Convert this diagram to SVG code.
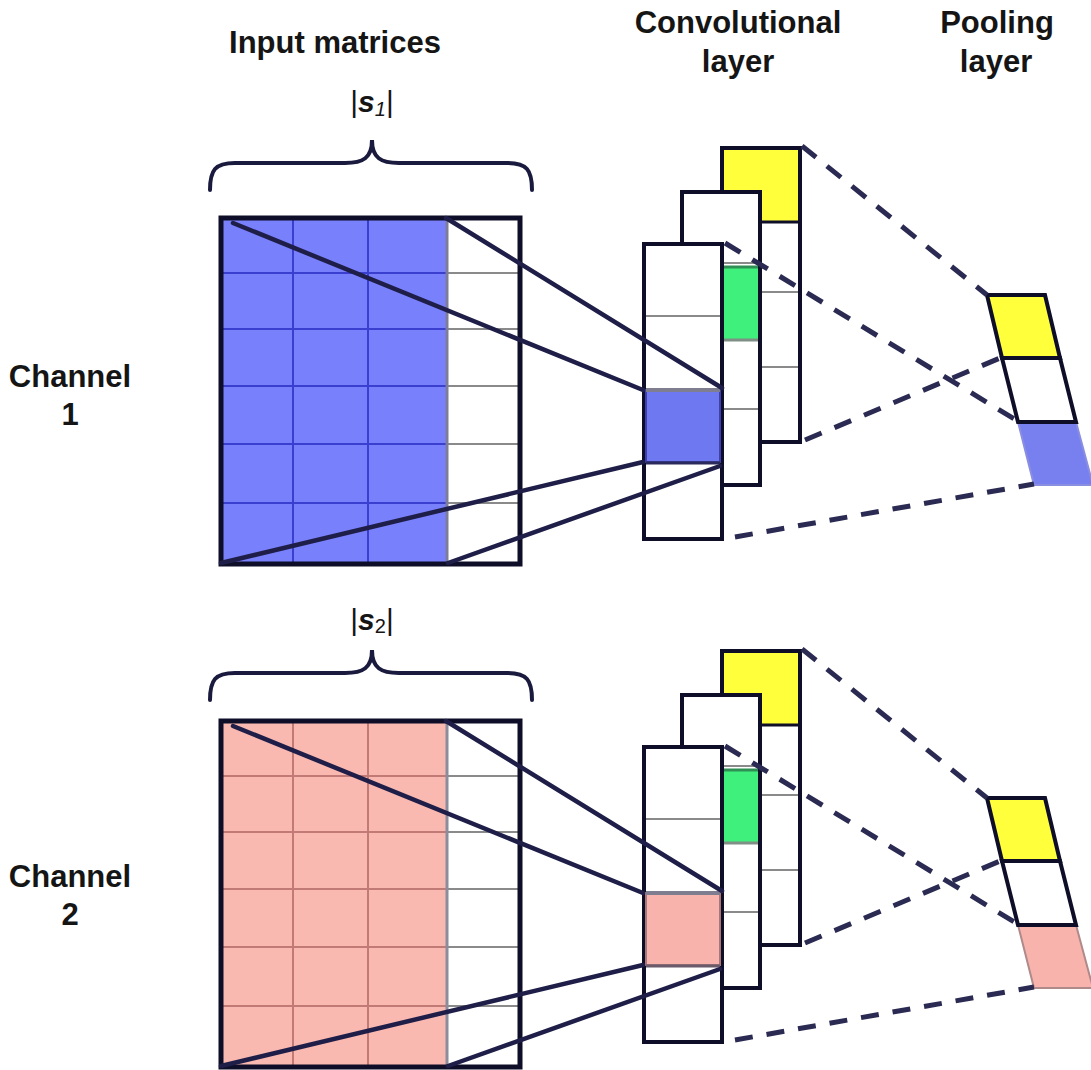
<svg xmlns="http://www.w3.org/2000/svg" width="1091" height="1070" viewBox="0 0 1091 1070">
<style>
.lbl{font-family:"Liberation Sans",Arial,sans-serif;font-weight:bold;font-size:31px;fill:#151515}
.sz{font-family:"Liberation Sans",Arial,sans-serif;font-size:30px;fill:#151515}
.frame{fill:none;stroke:#0e0e28;stroke-width:5}
.blk{fill:#fff;stroke:#0e0e28;stroke-width:4}
.gl{stroke:#8a8a8a;stroke-width:2}
.gb{stroke:#3b3fcf;stroke-width:2}
.gp{stroke:#c27a76;stroke-width:2}
.brace{fill:none;stroke:#1a1a3e;stroke-width:4;stroke-linecap:round}
.solid{stroke:#1e1e48;stroke-width:4.5;stroke-linecap:round}
.dash{stroke:#2a2a52;stroke-width:5;stroke-dasharray:18 14}
.pc{stroke:#0e0e28;stroke-width:4;stroke-linejoin:miter}
</style>

<!-- Titles -->
<g id="title-input"><text class="lbl" x="335" y="53" text-anchor="middle">Input matrices</text></g>
<g id="title-conv"><text class="lbl" x="738" y="33" text-anchor="middle">Convolutional</text><text class="lbl" x="738" y="72" text-anchor="middle">layer</text></g>
<g id="title-pool"><text class="lbl" x="997" y="33" text-anchor="middle">Pooling</text><text class="lbl" x="996" y="72" text-anchor="middle">layer</text></g>

<!-- Channel labels -->
<g id="label-ch1"><text class="lbl" x="70" y="387" text-anchor="middle">Channel</text><text class="lbl" x="70" y="425" text-anchor="middle">1</text></g>
<g id="label-ch2"><text class="lbl" x="70" y="887" text-anchor="middle">Channel</text><text class="lbl" x="70" y="925" text-anchor="middle">2</text></g>

<!-- Braces -->
<g id="brace1">
<path class="brace" d="M210,190 C210,170 215,163 235,163 L345,163 C363,163 372,158 372,140 C372,158 381,163 399,163 L507,163 C527,163 532,170 532,190"/>
<text class="sz" x="372" y="112" text-anchor="middle">|<tspan font-weight="bold" font-style="italic">s</tspan><tspan font-size="20" font-style="italic" dy="4">1</tspan><tspan dy="-4">|</tspan></text>
</g>
<g id="brace2">
<path class="brace" d="M210,700 C210,680 215,673 235,673 L345,673 C363,673 372,668 372,650 C372,668 381,673 399,673 L507,673 C527,673 532,680 532,700"/>
<text class="sz" x="372" y="630" text-anchor="middle">|<tspan font-weight="bold" font-style="italic">s</tspan><tspan font-size="20" dy="3">2</tspan><tspan dy="-3">|</tspan></text>
</g>

<!-- Input matrix 1 -->
<g id="input1">
<rect x="221" y="218" width="226" height="346" fill="#7880fc"/>
<g class="gb"><line x1="293" y1="218" x2="293" y2="564"/><line x1="368" y1="218" x2="368" y2="564"/>
<line x1="221" y1="273" x2="447" y2="273"/><line x1="221" y1="329" x2="447" y2="329"/><line x1="221" y1="386" x2="447" y2="386"/><line x1="221" y1="444" x2="447" y2="444"/><line x1="221" y1="503" x2="447" y2="503"/></g>
<g class="gl"><line x1="447" y1="273" x2="520" y2="273"/><line x1="447" y1="329" x2="520" y2="329"/><line x1="447" y1="386" x2="520" y2="386"/><line x1="447" y1="444" x2="520" y2="444"/><line x1="447" y1="503" x2="520" y2="503"/></g>
<line x1="447" y1="218" x2="447" y2="564" stroke="#7c7c9c" stroke-width="3"/>
<rect class="frame" x="221" y="218" width="299" height="346"/>
</g>

<!-- Input matrix 2 -->
<g id="input2" transform="translate(0,503)">
<rect x="221" y="218" width="226" height="346" fill="#f9b8b0"/>
<g class="gp"><line x1="293" y1="218" x2="293" y2="564"/><line x1="368" y1="218" x2="368" y2="564"/>
<line x1="221" y1="273" x2="447" y2="273"/><line x1="221" y1="329" x2="447" y2="329"/><line x1="221" y1="386" x2="447" y2="386"/><line x1="221" y1="444" x2="447" y2="444"/><line x1="221" y1="503" x2="447" y2="503"/></g>
<g class="gl"><line x1="447" y1="273" x2="520" y2="273"/><line x1="447" y1="329" x2="520" y2="329"/><line x1="447" y1="386" x2="520" y2="386"/><line x1="447" y1="444" x2="520" y2="444"/><line x1="447" y1="503" x2="520" y2="503"/></g>
<line x1="447" y1="218" x2="447" y2="564" stroke="#8c8c9c" stroke-width="3"/>
<rect class="frame" x="221" y="218" width="299" height="346"/>
</g>

<!-- Convolutional layer 1 -->
<g id="conv1">
<g id="conv1-back">
<rect class="blk" x="722" y="148" width="78" height="294"/>
<rect x="724" y="150" width="74" height="72" fill="#ffff3c"/>
<line x1="724" y1="222" x2="798" y2="222" stroke="#0e0e28" stroke-width="3"/>
<g class="gl"><line x1="724" y1="292" x2="798" y2="292"/><line x1="724" y1="367" x2="798" y2="367"/></g>
</g>
<g id="conv1-mid">
<rect class="blk" x="682" y="192" width="78" height="293"/>
<line class="gl" x1="684" y1="263" x2="758" y2="263"/>
<rect x="684" y="266" width="74" height="74" fill="#3ff07c"/>
<line x1="684" y1="267" x2="758" y2="267" stroke="#2f8f55" stroke-width="3"/>
<line x1="684" y1="340" x2="758" y2="340" stroke="#7f8f85" stroke-width="3"/>
<line class="gl" x1="684" y1="409" x2="758" y2="409"/>
</g>
<g id="conv1-front">
<rect class="blk" x="644" y="244" width="78" height="295"/>
<line class="gl" x1="646" y1="316" x2="720" y2="316"/>
<rect x="646" y="390" width="74" height="72" fill="#6e78f0" stroke="#3c40a8" stroke-width="2"/>
<line x1="646" y1="390" x2="720" y2="390" stroke="#7e7e90" stroke-width="4"/>
<line x1="646" y1="463" x2="720" y2="463" stroke="#2a2a5c" stroke-width="3"/>
</g>
</g>

<!-- Convolutional layer 2 -->
<g id="conv2" transform="translate(0,503)">
<g id="conv2-back">
<rect class="blk" x="722" y="148" width="78" height="294"/>
<rect x="724" y="150" width="74" height="72" fill="#ffff3c"/>
<line x1="724" y1="222" x2="798" y2="222" stroke="#0e0e28" stroke-width="3"/>
<g class="gl"><line x1="724" y1="292" x2="798" y2="292"/><line x1="724" y1="367" x2="798" y2="367"/></g>
</g>
<g id="conv2-mid">
<rect class="blk" x="682" y="192" width="78" height="293"/>
<line class="gl" x1="684" y1="263" x2="758" y2="263"/>
<rect x="684" y="266" width="74" height="74" fill="#3ff07c"/>
<line x1="684" y1="267" x2="758" y2="267" stroke="#2f8f55" stroke-width="3"/>
<line x1="684" y1="340" x2="758" y2="340" stroke="#7f8f85" stroke-width="3"/>
<line class="gl" x1="684" y1="409" x2="758" y2="409"/>
</g>
<g id="conv2-front">
<rect class="blk" x="644" y="244" width="78" height="295"/>
<line class="gl" x1="646" y1="316" x2="720" y2="316"/>
<rect x="646" y="390" width="74" height="72" fill="#f8b4ac" stroke="#a87878" stroke-width="2"/>
<line x1="646" y1="390" x2="720" y2="390" stroke="#7e7e90" stroke-width="4"/>
<line x1="646" y1="463" x2="720" y2="463" stroke="#6a5a6a" stroke-width="3"/>
</g>
</g>

<!-- Pooling layer 1 -->
<g id="pool1">
<polygon points="1018,422 1076,422 1093,485 1034,485" fill="#7880f0" stroke="#8a8ee0" stroke-width="2"/>
<polygon class="pc" points="1002,358 1060,358 1076,422 1018,422" fill="#fff"/>
<polygon class="pc" points="987,295 1045,295 1060,358 1002,358" fill="#ffff3c"/>
</g>

<!-- Pooling layer 2 -->
<g id="pool2" transform="translate(0,503)">
<polygon points="1018,422 1076,422 1093,485 1034,485" fill="#f8b4ac" stroke="#b08a8a" stroke-width="2"/>
<polygon class="pc" points="1002,358 1060,358 1076,422 1018,422" fill="#fff"/>
<polygon class="pc" points="987,295 1045,295 1060,358 1002,358" fill="#ffff3c"/>
</g>

<!-- Connectors -->
<g id="connectors">
<g id="connectors-ch1">
<line class="solid" x1="233" y1="223" x2="643" y2="390"/>
<line class="solid" x1="446" y1="218" x2="722" y2="388"/>
<line class="solid" x1="221" y1="563" x2="643" y2="462"/>
<line class="solid" x1="448" y1="563" x2="720" y2="466"/>
<line class="dash" x1="802" y1="146" x2="987" y2="295"/>
<line class="dash" x1="725" y1="243" x2="1016" y2="420"/>
<line class="dash" x1="805" y1="440" x2="1000" y2="358"/>
<line class="dash" x1="735" y1="537" x2="1034" y2="484"/>
</g>
<g id="connectors-ch2" transform="translate(0,503)">
<line class="solid" x1="233" y1="223" x2="643" y2="390"/>
<line class="solid" x1="446" y1="218" x2="722" y2="388"/>
<line class="solid" x1="221" y1="563" x2="643" y2="462"/>
<line class="solid" x1="448" y1="563" x2="720" y2="466"/>
<line class="dash" x1="802" y1="146" x2="987" y2="295"/>
<line class="dash" x1="725" y1="243" x2="1016" y2="420"/>
<line class="dash" x1="805" y1="440" x2="1000" y2="358"/>
<line class="dash" x1="735" y1="537" x2="1034" y2="484"/>
</g>
</g>
</svg>
